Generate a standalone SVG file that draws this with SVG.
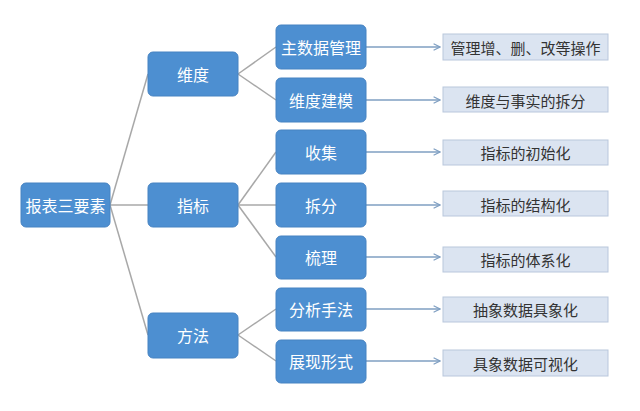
<svg xmlns="http://www.w3.org/2000/svg" width="640" height="411" viewBox="0 0 640 411">
<style>
.b{fill:#4d8fd1;stroke:#4783c2;stroke-width:1}
.bt{font-family:"Noto Sans CJK SC","Noto Sans CJK JP",sans-serif;font-size:16px;fill:#ffffff;text-anchor:middle;dominant-baseline:central}
.l{fill:#dbe4f1;stroke:#b9c7dc;stroke-width:1}
.lt{font-family:"Noto Sans CJK SC","Noto Sans CJK JP",sans-serif;font-size:15px;fill:#333333;text-anchor:middle;dominant-baseline:central}
.c{stroke:#a8a8a8;stroke-width:1.5;fill:none}
.a{stroke:#7f9fc2;stroke-width:1.5;fill:none;marker-end:url(#ar)}
</style>
<defs>
<marker id="ar" viewBox="0 0 10 10" refX="9" refY="5" markerWidth="8" markerHeight="8" markerUnits="userSpaceOnUse" orient="auto">
<path d="M1,1 L9,5 L1,9" fill="none" stroke="#7f9fc2" stroke-width="1.5"/>
</marker>
</defs>
<rect width="640" height="411" fill="#ffffff"/>
<g id="connectors">
<line class="c" x1="110" y1="205" x2="148" y2="74"/>
<line class="c" x1="110" y1="205" x2="148" y2="205"/>
<line class="c" x1="110" y1="205" x2="148" y2="335"/>
<line class="c" x1="238" y1="74" x2="276" y2="47"/>
<line class="c" x1="238" y1="74" x2="276" y2="100"/>
<line class="c" x1="238" y1="205" x2="276" y2="152"/>
<line class="c" x1="238" y1="205" x2="276" y2="205"/>
<line class="c" x1="238" y1="205" x2="276" y2="257"/>
<line class="c" x1="238" y1="335" x2="276" y2="309"/>
<line class="c" x1="238" y1="335" x2="276" y2="361"/>
<line class="a" x1="366" y1="47" x2="440" y2="47"/>
<line class="a" x1="366" y1="100" x2="440" y2="100"/>
<line class="a" x1="366" y1="152" x2="440" y2="152"/>
<line class="a" x1="366" y1="205" x2="440" y2="205"/>
<line class="a" x1="366" y1="257" x2="440" y2="257"/>
<line class="a" x1="366" y1="309" x2="440" y2="309"/>
<line class="a" x1="366" y1="361" x2="440" y2="361"/>
</g>
<g id="root"><rect class="b" x="21" y="183" width="89" height="44" rx="5"/><text class="bt" x="65.5" y="205">报表三要素</text></g>
<g id="weidu"><rect class="b" x="148" y="52" width="90" height="44" rx="5"/><text class="bt" x="193" y="74">维度</text></g>
<g id="zhibiao"><rect class="b" x="148" y="183" width="90" height="44" rx="5"/><text class="bt" x="193" y="205">指标</text></g>
<g id="fangfa"><rect class="b" x="148" y="313" width="90" height="45" rx="5"/><text class="bt" x="193" y="335">方法</text></g>
<g id="zhushuju"><rect class="b" x="276" y="25" width="90" height="44" rx="5"/><text class="bt" x="321" y="47">主数据管理</text></g>
<g id="weidujianmo"><rect class="b" x="276" y="78" width="90" height="44" rx="5"/><text class="bt" x="321" y="100">维度建模</text></g>
<g id="shouji"><rect class="b" x="276" y="130" width="90" height="44" rx="5"/><text class="bt" x="321" y="152">收集</text></g>
<g id="chaifen"><rect class="b" x="276" y="183" width="90" height="44" rx="5"/><text class="bt" x="321" y="205">拆分</text></g>
<g id="shuli"><rect class="b" x="276" y="236" width="90" height="43" rx="5"/><text class="bt" x="321" y="257">梳理</text></g>
<g id="fenxi"><rect class="b" x="276" y="288" width="90" height="43" rx="5"/><text class="bt" x="321" y="309">分析手法</text></g>
<g id="zhanxian"><rect class="b" x="276" y="340" width="90" height="43" rx="5"/><text class="bt" x="321" y="361">展现形式</text></g>
<g id="d1"><rect class="l" x="443" y="34" width="165" height="26"/><text class="lt" x="525.5" y="47">管理增、删、改等操作</text></g>
<g id="d2"><rect class="l" x="443" y="87" width="165" height="25"/><text class="lt" x="525.5" y="100">维度与事实的拆分</text></g>
<g id="d3"><rect class="l" x="443" y="140" width="165" height="25"/><text class="lt" x="525.5" y="152">指标的初始化</text></g>
<g id="d4"><rect class="l" x="443" y="191" width="165" height="25"/><text class="lt" x="525.5" y="204">指标的结构化</text></g>
<g id="d5"><rect class="l" x="443" y="247" width="165" height="25"/><text class="lt" x="525.5" y="259">指标的体系化</text></g>
<g id="d6"><rect class="l" x="443" y="297" width="165" height="25"/><text class="lt" x="525.5" y="309">抽象数据具象化</text></g>
<g id="d7"><rect class="l" x="443" y="350" width="165" height="26"/><text class="lt" x="525.5" y="363">具象数据可视化</text></g>
</svg>
